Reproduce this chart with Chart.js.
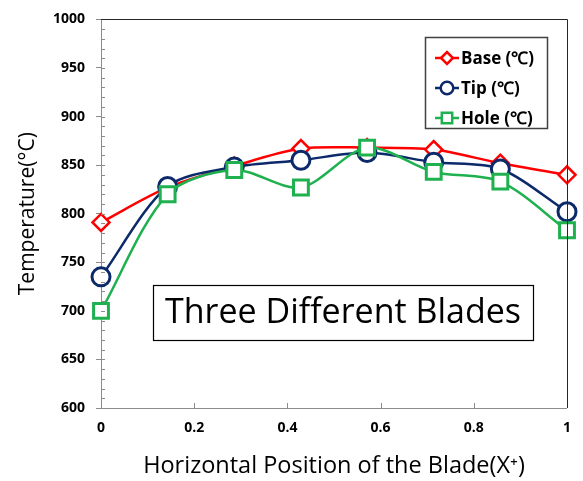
<!DOCTYPE html>
<html>
<head>
<meta charset="utf-8">
<script src="https://cdn.jsdelivr.net/npm/chart.js@4"></script>
<style>
  html, body { margin: 0; padding: 0; background: #fff; }
  #wrap { width: 583px; height: 481px; }
</style>
</head>
<body>
<div id="wrap"><canvas id="chart" width="583" height="481"></canvas></div>
<script>
// Horizontal positions along the blade (X+)
const positions = [0, 0.143, 0.286, 0.429, 0.571, 0.714, 0.857, 1];

// Temperatures (°C) per series
const baseTemps = [791, 827, 849, 867, 868, 866, 852, 840];
const tipTemps  = [735, 828, 848, 855, 863, 853, 846, 802];
const holeTemps = [700, 820, 845, 827, 868, 843, 833, 783];

const seriesNames = ['Base (℃)', 'Tip (℃)', 'Hole (℃)'];
const yTicks = [600, 650, 700, 750, 800, 850, 900, 950, 1000];
const xTicks = [0, 0.2, 0.4, 0.6, 0.8, 1];

const RED = '#ff0000', NAVY = '#0c2a6a', GREEN = '#1fb04f';

function toPoints(vals) {
    return vals.map((v, i) => ({ x: positions[i], y: v }));
}

// Extra drawing: minor ticks, frame, legend box, caption box
const decorations = {
    id: 'decorations',
    afterDatasetsDraw(chart) {
        const ctx = chart.ctx;
        const area = chart.chartArea;
        const xs = chart.scales.x, ys = chart.scales.y;
        ctx.save();

        // minor ticks on y (inside)
        ctx.strokeStyle = '#8c8c8c';
        ctx.lineWidth = 1;
        ctx.beginPath();
        for (let v = yTicks[0]; v <= yTicks[yTicks.length - 1]; v += 10) {
            const y = Math.round(ys.getPixelForValue(v)) + 0.5;
            ctx.moveTo(area.left, y);
            ctx.lineTo(area.left + 4, y);
        }
        // x ticks (inside)
        xTicks.forEach(t => {
            const x = Math.round(xs.getPixelForValue(t)) + 0.5;
            ctx.moveTo(x, area.bottom);
            ctx.lineTo(x, area.bottom - 5);
        });
        ctx.stroke();

        // top and right frame
        ctx.strokeStyle = '#262626';
        ctx.beginPath();
        ctx.moveTo(area.left, Math.round(area.top) + 0.5);
        ctx.lineTo(Math.round(area.right) + 0.5, Math.round(area.top) + 0.5);
        ctx.lineTo(Math.round(area.right) + 0.5, area.bottom);
        ctx.stroke();

        // caption box
        ctx.fillStyle = '#fff';
        ctx.fillRect(153.5, 285.5, 380, 55);
        ctx.strokeStyle = '#000';
        ctx.lineWidth = 1.2;
        ctx.strokeRect(153.5, 285.5, 380, 55);
        ctx.fillStyle = '#000';
        ctx.font = '34px "Open Sans"';
        ctx.textAlign = 'center';
        ctx.textBaseline = 'middle';
        ctx.fillText('Three Different Blades', 343, 313);

        // legend box
        ctx.fillStyle = '#fff';
        ctx.fillRect(425.5, 37.5, 122, 91);
        ctx.strokeStyle = '#404040';
        ctx.lineWidth = 1.5;
        ctx.strokeRect(425.5, 37.5, 122, 91);
        ctx.textAlign = 'left';
        ctx.font = 'bold 17px "Open Sans"';
        chart.data.datasets.forEach((ds, i) => {
            const y = 58 + i * 30;
            ctx.strokeStyle = ds.borderColor;
            ctx.lineWidth = 2.5;
            ctx.beginPath();
            ctx.moveTo(435, y);
            ctx.lineTo(459, y);
            ctx.stroke();
            ctx.fillStyle = '#fff';
            Chart.helpers.drawPoint(ctx, {
                pointStyle: ds.pointStyle,
                radius: ds.pointRadius * 0.7,
                borderWidth: 2.5,
                rotation: 0
            }, 447, y);
            ctx.fillStyle = '#000';
            ctx.fillText(seriesNames[i], 461, y + 1);
        });

        ctx.restore();
    }
};

const ctx = document.getElementById('chart').getContext('2d');
new Chart(ctx, {
    type: 'line',
    data: {
        datasets: [
            {
                label: seriesNames[0],
                data: toPoints(baseTemps),
                borderColor: RED,
                backgroundColor: '#fff',
                pointStyle: 'rectRot',
                pointRadius: 8.5,
                pointBorderWidth: 2.5,
                borderWidth: 2.5,
                order: 2
            },
            {
                label: seriesNames[1],
                data: toPoints(tipTemps),
                borderColor: NAVY,
                backgroundColor: '#fff',
                pointStyle: 'circle',
                pointRadius: 9,
                pointBorderWidth: 3,
                borderWidth: 2.5,
                order: 1
            },
            {
                label: seriesNames[2],
                data: toPoints(holeTemps),
                borderColor: GREEN,
                backgroundColor: '#fff',
                pointStyle: 'rect',
                pointRadius: 10.5,
                pointBorderWidth: 3,
                borderWidth: 2.5,
                order: 0
            }
        ]
    },
    options: {
        responsive: false,
        animation: false,
        devicePixelRatio: 1,
        layout: { padding: { top: 15, right: 13, left: 0, bottom: 0 } },
        elements: { line: { tension: 0.3 } },
        datasets: { line: { clip: false } },
        plugins: { legend: { display: false }, tooltip: { enabled: false } },
        scales: {
            x: {
                type: 'linear',
                min: 0,
                max: 1,
                afterBuildTicks: s => { s.ticks = xTicks.map(v => ({ value: v })); },
                afterFit: s => { s.height = 73; },
                grid: { display: false, drawTicks: false },
                border: { color: '#8c8c8c', width: 1 },
                ticks: {
                    padding: 12,
                    color: '#000',
                    font: { family: '"Open Sans"', size: 14, weight: 'bold' },
                    callback: v => String(Number(v.toFixed(1)))
                },
                title: {
                    display: true,
                    text: 'Horizontal Position of the Blade(X⁺)',
                    color: '#000',
                    font: { family: '"Open Sans"', size: 23.5 },
                    padding: { top: 0, bottom: 1 }
                }
            },
            y: {
                min: 600,
                max: 1000,
                afterBuildTicks: s => { s.ticks = yTicks.map(v => ({ value: v })); },
                afterFit: s => { s.width = 101; },
                grid: { drawOnChartArea: false, drawTicks: true, tickLength: 5, color: '#8c8c8c' },
                border: { color: '#8c8c8c', width: 1 },
                ticks: {
                    padding: 11,
                    color: '#000',
                    font: { family: '"Open Sans"', size: 14, weight: 'bold' },
                    callback: v => String(v)
                },
                title: {
                    display: true,
                    text: 'Temperature(°C)',
                    color: '#000',
                    font: { family: '"Open Sans"', size: 21 },
                    padding: { top: 15, bottom: 0 }
                }
            }
        }
    },
    plugins: [decorations]
});
</script>
</body>
</html>
